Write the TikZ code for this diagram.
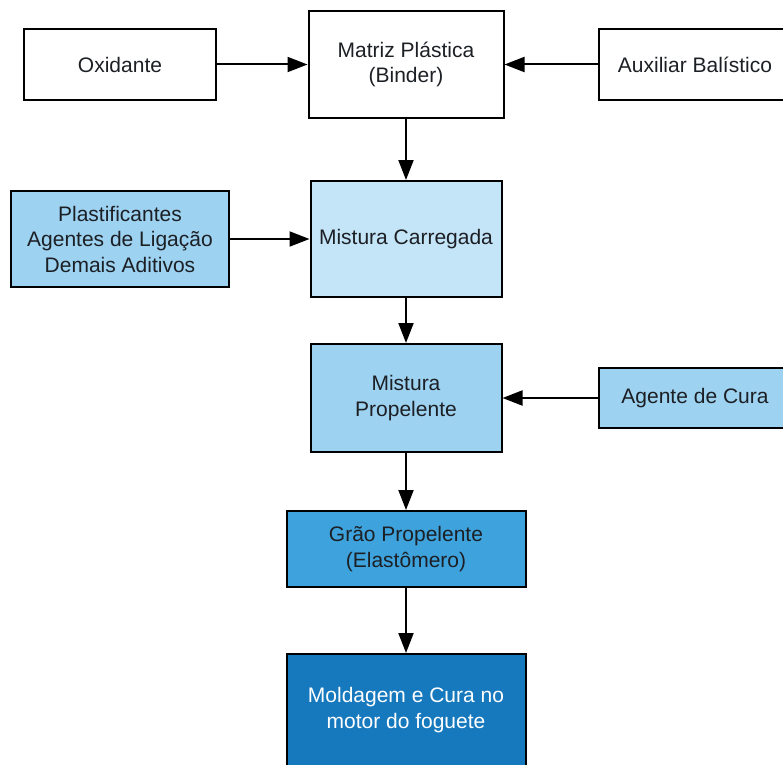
\documentclass[tikz,border=0pt]{standalone}
\usepackage{fontspec}
\setmainfont{Liberation Sans}
\usetikzlibrary{arrows.meta}
\definecolor{ink}{HTML}{1C1F24}
\definecolor{paleblue}{HTML}{C4E4F7}
\definecolor{lightblue}{HTML}{9DD2F1}
\definecolor{midblue}{HTML}{3EA3DD}
\definecolor{deepblue}{HTML}{1678BD}
\begin{document}
\begin{tikzpicture}[x=1bp,y=-1bp,
  box/.style={draw=black, line width=2bp, inner sep=0pt, align=center,
    font=\fontsize{21bp}{25.5bp}\selectfont, text=ink},
  arr/.style={draw=black, line width=2bp, -{Triangle[length=20bp,width=15bp]}}]
\useasboundingbox (0,0) rectangle (783,765);

% top row: raw ingredients and binder
\node[box, minimum width=192bp, minimum height=71bp] (ox) at (120,64.5) {Oxidante};
\node[box, minimum width=195bp, minimum height=107bp] (mp) at (406,64.5) {Matriz Plástica\\(Binder)};
\node[box, minimum width=192bp, minimum height=71bp] (ab) at (695,64.5) {Auxiliar Balístico};

% loaded mixture with additives
\node[box, fill=lightblue, minimum width=218bp, minimum height=96bp] (pl) at (120,239) {Plastificantes\\Agentes de Ligação\\Demais Aditivos};
\node[box, fill=paleblue, minimum width=191bp, minimum height=116bp] (mc) at (406,239) {Mistura Carregada};

% propellant mixture and curing agent
\node[box, fill=lightblue, minimum width=191bp, minimum height=108bp] (mprop) at (406,398) {Mistura\\Propelente};
\node[box, fill=lightblue, minimum width=192bp, minimum height=60bp] (ag) at (695,398) {Agente de Cura};

% grain and final casting
\node[box, fill=midblue, minimum width=239bp, minimum height=76bp] (gp) at (406,549) {Grão Propelente\\(Elastômero)};
\node[box, fill=deepblue, text=white, minimum width=239bp, minimum height=112bp] (mo) at (406,710) {Moldagem e Cura no\\motor do foguete};

% flow connectors
\draw[arr] (ox) -- (mp);
\draw[arr] (ab) -- (mp);
\draw[arr] (mp) -- (mc);
\draw[arr] (pl) -- (mc);
\draw[arr] (mc) -- (mprop);
\draw[arr] (ag) -- (mprop);
\draw[arr] (mprop) -- (gp);
\draw[arr] (gp) -- (mo);
\end{tikzpicture}
\end{document}
